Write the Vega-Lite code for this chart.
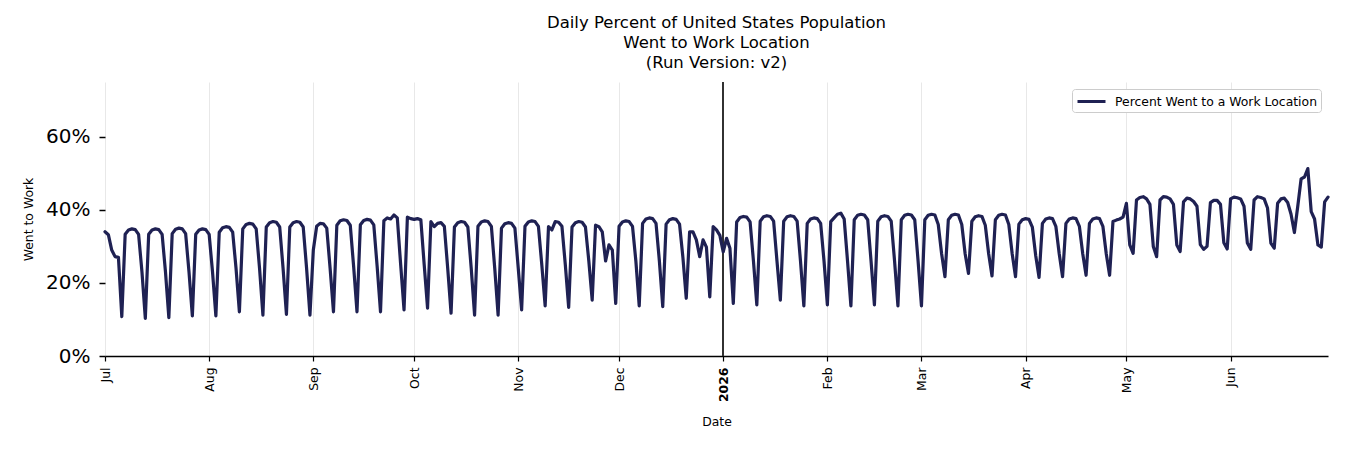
{
"$schema": "https://vega.github.io/schema/vega-lite/v6.json",
"width": 1223,
"height": 274,
"autosize": {"type": "none"},
"padding": {"left": 105, "top": 82, "right": 22, "bottom": 94},
"background": "white",
"config": {"font": "DejaVu Sans", "view": {"stroke": null}},
"title": {"text": ["Daily Percent of United States Population", "Went to Work Location", "(Run Version: v2)"], "fontSize": 16.5, "fontWeight": "normal", "lineHeight": 20, "anchor": "middle", "offset": 10, "color": "black", "font": "DejaVu Sans"},
"data": {"values": [
{"d":"2025-07-01","v":34},{"d":"2025-07-02","v":33.2},{"d":"2025-07-03","v":29},{"d":"2025-07-04","v":27.2},{"d":"2025-07-05","v":27},{"d":"2025-07-06","v":10.8},
{"d":"2025-07-07","v":33.3},{"d":"2025-07-08","v":34.5},{"d":"2025-07-09","v":34.8},{"d":"2025-07-10","v":34.6},{"d":"2025-07-11","v":33.3},{"d":"2025-07-12","v":23},{"d":"2025-07-13","v":10.3},
{"d":"2025-07-14","v":33.3},{"d":"2025-07-15","v":34.5},{"d":"2025-07-16","v":34.8},{"d":"2025-07-17","v":34.6},{"d":"2025-07-18","v":33.3},{"d":"2025-07-19","v":23},{"d":"2025-07-20","v":10.5},
{"d":"2025-07-21","v":33.5},{"d":"2025-07-22","v":34.7},{"d":"2025-07-23","v":35},{"d":"2025-07-24","v":34.8},{"d":"2025-07-25","v":33.5},{"d":"2025-07-26","v":23},{"d":"2025-07-27","v":11},
{"d":"2025-07-28","v":33.3},{"d":"2025-07-29","v":34.5},{"d":"2025-07-30","v":34.8},{"d":"2025-07-31","v":34.6},{"d":"2025-08-01","v":33.3},{"d":"2025-08-02","v":23},{"d":"2025-08-03","v":11},
{"d":"2025-08-04","v":33.9},{"d":"2025-08-05","v":35.1},{"d":"2025-08-06","v":35.4},{"d":"2025-08-07","v":35.2},{"d":"2025-08-08","v":33.9},{"d":"2025-08-09","v":24},{"d":"2025-08-10","v":12.1},
{"d":"2025-08-11","v":34.8},{"d":"2025-08-12","v":36},{"d":"2025-08-13","v":36.3},{"d":"2025-08-14","v":36.1},{"d":"2025-08-15","v":34.8},{"d":"2025-08-16","v":24},{"d":"2025-08-17","v":11.2},
{"d":"2025-08-18","v":35.3},{"d":"2025-08-19","v":36.5},{"d":"2025-08-20","v":36.8},{"d":"2025-08-21","v":36.6},{"d":"2025-08-22","v":35.3},{"d":"2025-08-23","v":24},{"d":"2025-08-24","v":11.4},
{"d":"2025-08-25","v":35.3},{"d":"2025-08-26","v":36.5},{"d":"2025-08-27","v":36.8},{"d":"2025-08-28","v":36.6},{"d":"2025-08-29","v":35.3},{"d":"2025-08-30","v":24},{"d":"2025-08-31","v":11.2},
{"d":"2025-09-01","v":29},{"d":"2025-09-02","v":35.5},{"d":"2025-09-03","v":36.3},{"d":"2025-09-04","v":36.2},{"d":"2025-09-05","v":35},{"d":"2025-09-06","v":24},{"d":"2025-09-07","v":12.1},
{"d":"2025-09-08","v":35.8},{"d":"2025-09-09","v":37},{"d":"2025-09-10","v":37.3},{"d":"2025-09-11","v":37.1},{"d":"2025-09-12","v":35.8},{"d":"2025-09-13","v":24.5},{"d":"2025-09-14","v":12.1},
{"d":"2025-09-15","v":35.9},{"d":"2025-09-16","v":37.1},{"d":"2025-09-17","v":37.4},{"d":"2025-09-18","v":37.2},{"d":"2025-09-19","v":35.9},{"d":"2025-09-20","v":24.5},{"d":"2025-09-21","v":12.1},
{"d":"2025-09-22","v":37},{"d":"2025-09-23","v":37.8},{"d":"2025-09-24","v":37.5},{"d":"2025-09-25","v":38.6},{"d":"2025-09-26","v":37.8},{"d":"2025-09-27","v":25},{"d":"2025-09-28","v":12.6},
{"d":"2025-09-29","v":38},{"d":"2025-09-30","v":37.6},{"d":"2025-10-01","v":37.4},{"d":"2025-10-02","v":37.6},{"d":"2025-10-03","v":37.3},{"d":"2025-10-04","v":25},{"d":"2025-10-05","v":13.1},
{"d":"2025-10-06","v":36.8},{"d":"2025-10-07","v":35.4},{"d":"2025-10-08","v":36.3},{"d":"2025-10-09","v":36.5},{"d":"2025-10-10","v":35.5},{"d":"2025-10-11","v":24},{"d":"2025-10-12","v":11.7},
{"d":"2025-10-13","v":35.3},{"d":"2025-10-14","v":36.5},{"d":"2025-10-15","v":36.8},{"d":"2025-10-16","v":36.6},{"d":"2025-10-17","v":35.3},{"d":"2025-10-18","v":24},{"d":"2025-10-19","v":11.2},
{"d":"2025-10-20","v":35.5},{"d":"2025-10-21","v":36.7},{"d":"2025-10-22","v":37},{"d":"2025-10-23","v":36.8},{"d":"2025-10-24","v":35.5},{"d":"2025-10-25","v":24},{"d":"2025-10-26","v":11.2},
{"d":"2025-10-27","v":35},{"d":"2025-10-28","v":36.2},{"d":"2025-10-29","v":36.5},{"d":"2025-10-30","v":36.3},{"d":"2025-10-31","v":35},{"d":"2025-11-01","v":24},{"d":"2025-11-02","v":12.6},
{"d":"2025-11-03","v":35.5},{"d":"2025-11-04","v":36.7},{"d":"2025-11-05","v":37},{"d":"2025-11-06","v":36.8},{"d":"2025-11-07","v":35.5},{"d":"2025-11-08","v":25},{"d":"2025-11-09","v":13.7},
{"d":"2025-11-10","v":35.4},{"d":"2025-11-11","v":34.5},{"d":"2025-11-12","v":36.8},{"d":"2025-11-13","v":36.6},{"d":"2025-11-14","v":35.5},{"d":"2025-11-15","v":25},{"d":"2025-11-16","v":13.3},
{"d":"2025-11-17","v":35.3},{"d":"2025-11-18","v":36.5},{"d":"2025-11-19","v":36.8},{"d":"2025-11-20","v":36.6},{"d":"2025-11-21","v":35.3},{"d":"2025-11-22","v":26},{"d":"2025-11-23","v":15.3},
{"d":"2025-11-24","v":35.8},{"d":"2025-11-25","v":35.4},{"d":"2025-11-26","v":34},{"d":"2025-11-27","v":26},{"d":"2025-11-28","v":30.4},{"d":"2025-11-29","v":29},{"d":"2025-11-30","v":14.4},
{"d":"2025-12-01","v":35.5},{"d":"2025-12-02","v":36.7},{"d":"2025-12-03","v":37},{"d":"2025-12-04","v":36.8},{"d":"2025-12-05","v":35.5},{"d":"2025-12-06","v":26},{"d":"2025-12-07","v":13.7},
{"d":"2025-12-08","v":36.3},{"d":"2025-12-09","v":37.5},{"d":"2025-12-10","v":37.8},{"d":"2025-12-11","v":37.6},{"d":"2025-12-12","v":36.3},{"d":"2025-12-13","v":26},{"d":"2025-12-14","v":13.5},
{"d":"2025-12-15","v":36.1},{"d":"2025-12-16","v":37.3},{"d":"2025-12-17","v":37.6},{"d":"2025-12-18","v":37.4},{"d":"2025-12-19","v":36.1},{"d":"2025-12-20","v":27},{"d":"2025-12-21","v":15.8},
{"d":"2025-12-22","v":34},{"d":"2025-12-23","v":34},{"d":"2025-12-24","v":31.8},{"d":"2025-12-25","v":27.2},{"d":"2025-12-26","v":31.8},{"d":"2025-12-27","v":29.8},{"d":"2025-12-28","v":16.2},
{"d":"2025-12-29","v":35.4},{"d":"2025-12-30","v":34.5},{"d":"2025-12-31","v":33},{"d":"2026-01-01","v":28.5},{"d":"2026-01-02","v":32.2},{"d":"2026-01-03","v":29.5},{"d":"2026-01-04","v":14.4},
{"d":"2026-01-05","v":36.7},{"d":"2026-01-06","v":37.9},{"d":"2026-01-07","v":38.2},{"d":"2026-01-08","v":38},{"d":"2026-01-09","v":36.7},{"d":"2026-01-10","v":26},{"d":"2026-01-11","v":14},
{"d":"2026-01-12","v":36.9},{"d":"2026-01-13","v":38.1},{"d":"2026-01-14","v":38.4},{"d":"2026-01-15","v":38.2},{"d":"2026-01-16","v":36.9},{"d":"2026-01-17","v":26},{"d":"2026-01-18","v":15.3},
{"d":"2026-01-19","v":36.9},{"d":"2026-01-20","v":38.1},{"d":"2026-01-21","v":38.4},{"d":"2026-01-22","v":38.2},{"d":"2026-01-23","v":36.9},{"d":"2026-01-24","v":26},{"d":"2026-01-25","v":13.7},
{"d":"2026-01-26","v":36.3},{"d":"2026-01-27","v":37.5},{"d":"2026-01-28","v":37.8},{"d":"2026-01-29","v":37.6},{"d":"2026-01-30","v":36.3},{"d":"2026-01-31","v":26},{"d":"2026-02-01","v":14},
{"d":"2026-02-02","v":36.8},{"d":"2026-02-03","v":37.8},{"d":"2026-02-04","v":38.8},{"d":"2026-02-05","v":39.1},{"d":"2026-02-06","v":37.5},{"d":"2026-02-07","v":26},{"d":"2026-02-08","v":13.7},
{"d":"2026-02-09","v":37.3},{"d":"2026-02-10","v":38.5},{"d":"2026-02-11","v":38.8},{"d":"2026-02-12","v":38.6},{"d":"2026-02-13","v":37.3},{"d":"2026-02-14","v":26},{"d":"2026-02-15","v":14},
{"d":"2026-02-16","v":36.9},{"d":"2026-02-17","v":38.1},{"d":"2026-02-18","v":38.4},{"d":"2026-02-19","v":38.2},{"d":"2026-02-20","v":36.9},{"d":"2026-02-21","v":26},{"d":"2026-02-22","v":13.7},
{"d":"2026-02-23","v":37.3},{"d":"2026-02-24","v":38.5},{"d":"2026-02-25","v":38.8},{"d":"2026-02-26","v":38.6},{"d":"2026-02-27","v":37.3},{"d":"2026-02-28","v":26},{"d":"2026-03-01","v":13.7},
{"d":"2026-03-02","v":37.3},{"d":"2026-03-03","v":38.5},{"d":"2026-03-04","v":38.8},{"d":"2026-03-05","v":38.6},{"d":"2026-03-06","v":36},{"d":"2026-03-07","v":28},{"d":"2026-03-08","v":21.7},
{"d":"2026-03-09","v":37.3},{"d":"2026-03-10","v":38.5},{"d":"2026-03-11","v":38.8},{"d":"2026-03-12","v":38.6},{"d":"2026-03-13","v":36},{"d":"2026-03-14","v":28},{"d":"2026-03-15","v":22.6},
{"d":"2026-03-16","v":36.9},{"d":"2026-03-17","v":38.1},{"d":"2026-03-18","v":38.4},{"d":"2026-03-19","v":38.2},{"d":"2026-03-20","v":35.8},{"d":"2026-03-21","v":28},{"d":"2026-03-22","v":21.9},
{"d":"2026-03-23","v":37.3},{"d":"2026-03-24","v":38.5},{"d":"2026-03-25","v":38.8},{"d":"2026-03-26","v":38.6},{"d":"2026-03-27","v":36},{"d":"2026-03-28","v":28},{"d":"2026-03-29","v":21.7},
{"d":"2026-03-30","v":36.1},{"d":"2026-03-31","v":37.3},{"d":"2026-04-01","v":37.6},{"d":"2026-04-02","v":37.4},{"d":"2026-04-03","v":35.3},{"d":"2026-04-04","v":27.5},{"d":"2026-04-05","v":21.5},
{"d":"2026-04-06","v":36.3},{"d":"2026-04-07","v":37.5},{"d":"2026-04-08","v":37.8},{"d":"2026-04-09","v":37.6},{"d":"2026-04-10","v":35.5},{"d":"2026-04-11","v":28},{"d":"2026-04-12","v":21.7},
{"d":"2026-04-13","v":36.3},{"d":"2026-04-14","v":37.5},{"d":"2026-04-15","v":37.8},{"d":"2026-04-16","v":37.6},{"d":"2026-04-17","v":35.5},{"d":"2026-04-18","v":28},{"d":"2026-04-19","v":22.1},
{"d":"2026-04-20","v":36.3},{"d":"2026-04-21","v":37.5},{"d":"2026-04-22","v":37.8},{"d":"2026-04-23","v":37.6},{"d":"2026-04-24","v":35.5},{"d":"2026-04-25","v":28},{"d":"2026-04-26","v":22.1},
{"d":"2026-04-27","v":36.8},{"d":"2026-04-28","v":37.2},{"d":"2026-04-29","v":37.5},{"d":"2026-04-30","v":38},{"d":"2026-05-01","v":41.8},{"d":"2026-05-02","v":30.4},{"d":"2026-05-03","v":28.1},
{"d":"2026-05-04","v":42.7},{"d":"2026-05-05","v":43.4},{"d":"2026-05-06","v":43.6},{"d":"2026-05-07","v":43},{"d":"2026-05-08","v":41.5},{"d":"2026-05-09","v":30},{"d":"2026-05-10","v":27.2},
{"d":"2026-05-11","v":42.7},{"d":"2026-05-12","v":43.6},{"d":"2026-05-13","v":43.5},{"d":"2026-05-14","v":43},{"d":"2026-05-15","v":41.5},{"d":"2026-05-16","v":30.4},{"d":"2026-05-17","v":28.6},
{"d":"2026-05-18","v":42.2},{"d":"2026-05-19","v":43.2},{"d":"2026-05-20","v":43},{"d":"2026-05-21","v":42.3},{"d":"2026-05-22","v":41},{"d":"2026-05-23","v":30.5},{"d":"2026-05-24","v":29.2},
{"d":"2026-05-25","v":30},{"d":"2026-05-26","v":42},{"d":"2026-05-27","v":42.6},{"d":"2026-05-28","v":42.6},{"d":"2026-05-29","v":41.5},{"d":"2026-05-30","v":31},{"d":"2026-05-31","v":29.3},
{"d":"2026-06-01","v":43},{"d":"2026-06-02","v":43.5},{"d":"2026-06-03","v":43.3},{"d":"2026-06-04","v":43},{"d":"2026-06-05","v":41},{"d":"2026-06-06","v":30.9},{"d":"2026-06-07","v":29.2},
{"d":"2026-06-08","v":42.7},{"d":"2026-06-09","v":43.6},{"d":"2026-06-10","v":43.4},{"d":"2026-06-11","v":43},{"d":"2026-06-12","v":40.5},{"d":"2026-06-13","v":30.9},{"d":"2026-06-14","v":29.5},
{"d":"2026-06-15","v":41.8},{"d":"2026-06-16","v":43},{"d":"2026-06-17","v":43.2},{"d":"2026-06-18","v":42},{"d":"2026-06-19","v":38.8},{"d":"2026-06-20","v":33.8},{"d":"2026-06-21","v":41},
{"d":"2026-06-22","v":48.5},{"d":"2026-06-23","v":49},{"d":"2026-06-24","v":51.3},{"d":"2026-06-25","v":39.5},{"d":"2026-06-26","v":37.5},{"d":"2026-06-27","v":30.4},{"d":"2026-06-28","v":29.8},
{"d":"2026-06-29","v":42.2},{"d":"2026-06-30","v":43.5}
]},
"layer": [
{"mark": {"type": "rule", "color": "#333333", "strokeWidth": 0.8},
 "encoding": {"x": {"datum": 1767225600000, "type": "temporal"}}},
{"mark": {"type": "line", "strokeWidth": 3.2, "strokeJoin": "round", "strokeCap": "round"},
 "encoding": {
  "x": {"field": "d", "type": "temporal",
   "scale": {"type": "utc", "domain": [1751328000000, 1782777600000]},
   "axis": {"values": [1751328000000, 1754006400000, 1756684800000, 1759276800000, 1761955200000, 1764547200000, 1767225600000, 1769904000000, 1772323200000, 1775001600000, 1777593600000, 1780272000000],
    "labelExpr": "utcmonth(datum.value) == 0 ? utcFormat(datum.value, '%Y') : utcFormat(datum.value, '%b')",
    "labelAngle": -90, "labelFontSize": 12.4, "labelColor": "black",
    "labelFontWeight": {"condition": {"test": "utcmonth(datum.value) == 0", "value": "bold"}, "value": "normal"},
    "labelOverlap": false, "labelFlush": false, "labelBound": false, "labelPadding": 6,
    "grid": true, "gridColor": "#e8e8e8", "gridWidth": 1,
    "domainColor": "black", "domainWidth": 1.5, "tickColor": "black", "tickSize": 5, "tickWidth": 1.2,
    "title": "Date", "titleFontSize": 12.4, "titleFontWeight": "normal", "titleColor": "black", "titlePadding": 14}},
  "y": {"field": "v", "type": "quantitative",
   "scale": {"domain": [0, 75], "nice": false},
   "axis": {"values": [0, 20, 40, 60], "labelExpr": "datum.value + '%'", "labelFontSize": 20, "labelColor": "black",
    "domain": false, "grid": false, "tickColor": "black", "tickSize": 6, "tickWidth": 1.5, "labelPadding": 9,
    "title": "Went to Work", "titleFontSize": 12.4, "titleFontWeight": "normal", "titleColor": "black", "titlePadding": 10}},
  "color": {"datum": "Percent Went to a Work Location", "type": "nominal",
   "scale": {"range": ["#1f2153"]},
   "legend": {"orient": "top-right", "offset": 7, "title": null, "symbolType": "M-1,0L3,0", "symbolStrokeWidth": 3, "symbolSize": 196,
    "labelFontSize": 12.4, "labelColor": "black", "labelLimit": 0, "strokeColor": "#cccccc", "fillColor": "white", "padding": 4, "cornerRadius": 3, "labelOffset": 22}}
 }}
]
}
